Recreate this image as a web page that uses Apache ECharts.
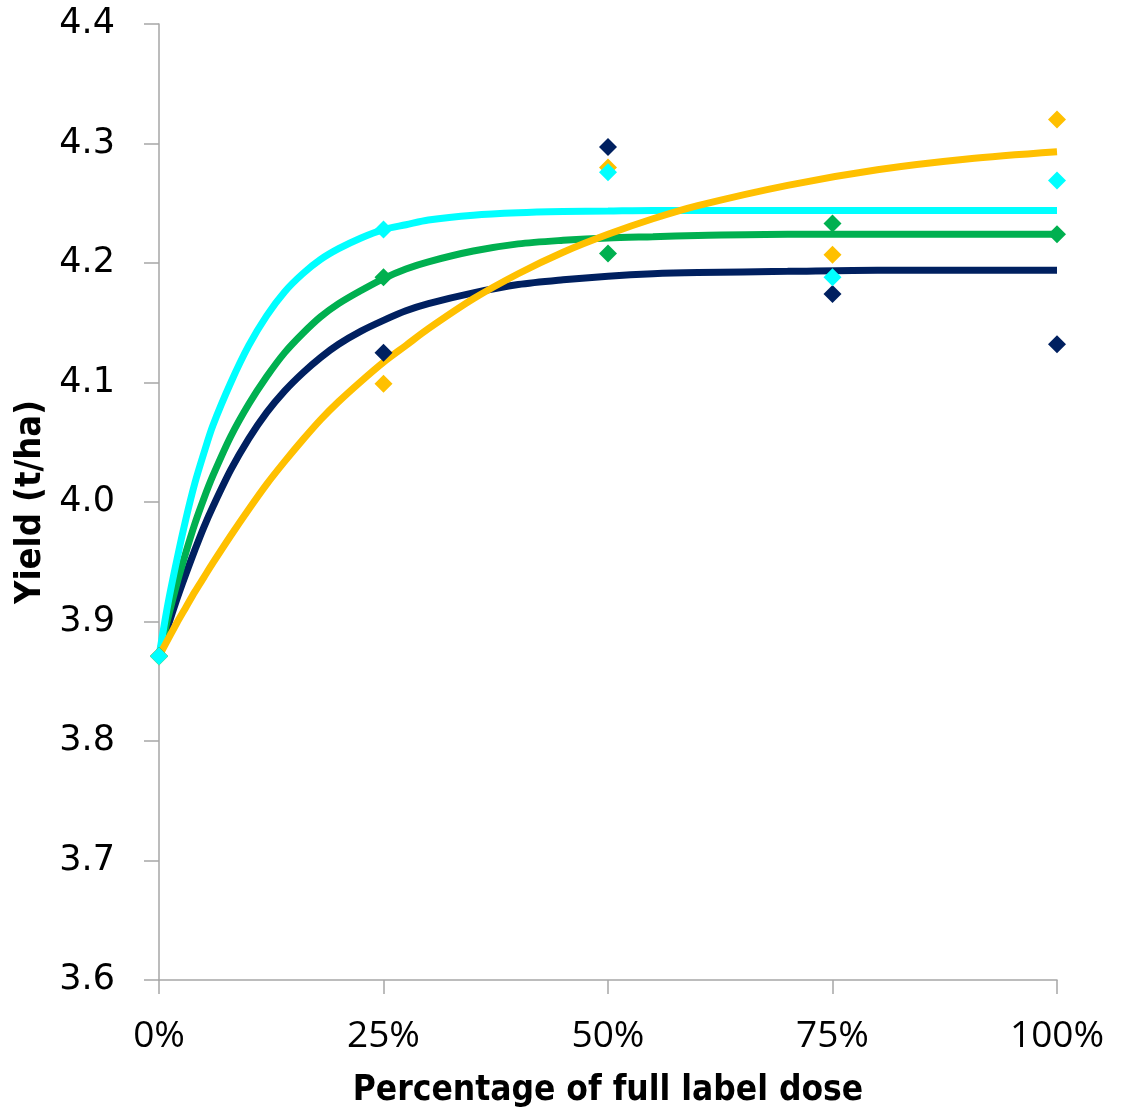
<!DOCTYPE html>
<html><head><meta charset="utf-8">
<script src="https://cdn.jsdelivr.net/npm/echarts@6/dist/echarts.min.js"></script>
<style>html,body{margin:0;padding:0;background:#fff}#c{width:1134px;height:1115px}</style>
</head><body><div id="c"></div>
<script>
// Observed data (dose % of full label, yield t/ha)
const doses = [0, 25, 50, 75, 100];
const navyObs   = [3.871, 4.125, 4.297, 4.174, 4.132];
const yellowObs = [3.871, 4.099, 4.280, 4.207, 4.320];
const cyanObs   = [3.871, 4.228, 4.276, 4.188, 4.269];
const greenObs  = [3.871, 4.188, 4.208, 4.233, 4.224];

// Fitted trend curves
const curveX    = [0, 1, 2, 3, 4, 5, 6, 8, 10, 12, 14, 16, 18, 20, 22.5, 25, 27.5, 30, 35, 40, 45, 50, 55, 60, 70, 80, 90, 100];
const navyFit   = [3.871, 3.896, 3.919, 3.940, 3.960, 3.979, 3.996, 4.027, 4.053, 4.075, 4.093, 4.108, 4.121, 4.132, 4.143, 4.152, 4.160, 4.166, 4.175, 4.182, 4.186, 4.189, 4.191, 4.192, 4.193, 4.194, 4.194, 4.194];
const greenFit  = [3.871, 3.903, 3.932, 3.958, 3.982, 4.003, 4.022, 4.055, 4.082, 4.105, 4.125, 4.141, 4.155, 4.166, 4.177, 4.187, 4.195, 4.201, 4.210, 4.216, 4.219, 4.221, 4.222, 4.223, 4.224, 4.224, 4.224, 4.224];
const cyanFit   = [3.871, 3.915, 3.952, 3.986, 4.016, 4.041, 4.064, 4.100, 4.131, 4.156, 4.176, 4.191, 4.203, 4.212, 4.221, 4.228, 4.232, 4.236, 4.240, 4.242, 4.243, 4.2435, 4.244, 4.244, 4.244, 4.244, 4.244, 4.244];
const yellowFit = [3.871, 3.885, 3.899, 3.912, 3.925, 3.937, 3.949, 3.972, 3.994, 4.015, 4.034, 4.052, 4.069, 4.084, 4.101, 4.117, 4.131, 4.145, 4.170, 4.191, 4.209, 4.224, 4.237, 4.248, 4.265, 4.278, 4.287, 4.293];

const xTicks = ['0%', '25%', '50%', '75%', '100%'];
const colors = {navy: '#002060', green: '#00B050', cyan: '#00FFFF', yellow: '#FFC000'};

const pair = (xs, ys) => xs.map((x, i) => [x, ys[i]]);
const fitLine = (name, ys, c) => ({
  name, type: 'line', data: pair(curveX, ys), smooth: 0.3, showSymbol: false,
  lineStyle: {color: c, width: 7, cap: 'butt'}, z: 2, silent: true
});
const pts = (name, ys, c) => ({
  name, type: 'scatter', data: pair(doses, ys), symbol: 'diamond', symbolSize: 18,
  itemStyle: {color: c, opacity: 1}, z: 3
});

const chart = echarts.init(document.getElementById('c'));
chart.setOption({
  animation: false,
  backgroundColor: '#fff',
  grid: {left: 159, right: 77, top: 24, bottom: 135},
  xAxis: {
    type: 'value', min: 0, max: 100, interval: 25,
    axisLine: {lineStyle: {color: '#A6A6A6', width: 1.5}},
    axisTick: {show: true, length: 14, lineStyle: {color: '#A6A6A6', width: 1.5}},
    splitLine: {show: false},
    axisLabel: {margin: 38, fontFamily: 'Open Sans', fontSize: 37, color: '#000',
      formatter: v => xTicks[doses.indexOf(v)] ?? (v + '%')},
    name: 'Percentage of full label dose', nameLocation: 'middle', nameGap: 93,
    nameTextStyle: {fontFamily: '"DejaVu Sans Condensed", "DejaVu Sans"', fontWeight: 'bold', fontSize: 35, color: '#000'}
  },
  yAxis: {
    type: 'value', min: 3.6, max: 4.4, interval: 0.1,
    axisLine: {show: true, lineStyle: {color: '#A6A6A6', width: 1.5}},
    axisTick: {show: true, length: 15, lineStyle: {color: '#A6A6A6', width: 1.5}},
    splitLine: {show: false},
    axisLabel: {margin: 44, fontFamily: 'DejaVu Sans', fontSize: 35, color: '#000',
      formatter: v => v.toFixed(1)},
    name: 'Yield (t/ha)', nameLocation: 'middle', nameGap: 95, nameRotate: 90,
    nameTextStyle: {fontFamily: '"DejaVu Sans Condensed", "DejaVu Sans"', fontWeight: 'bold', fontSize: 36, color: '#000'}
  },
  series: [
    fitLine('navy fit', navyFit, colors.navy),
    fitLine('green fit', greenFit, colors.green),
    fitLine('cyan fit', cyanFit, colors.cyan),
    fitLine('yellow fit', yellowFit, colors.yellow),
    pts('navy', navyObs, colors.navy),
    pts('green', greenObs, colors.green),
    pts('yellow', yellowObs, colors.yellow),
    pts('cyan', cyanObs, colors.cyan)
  ]
});
</script></body></html>
